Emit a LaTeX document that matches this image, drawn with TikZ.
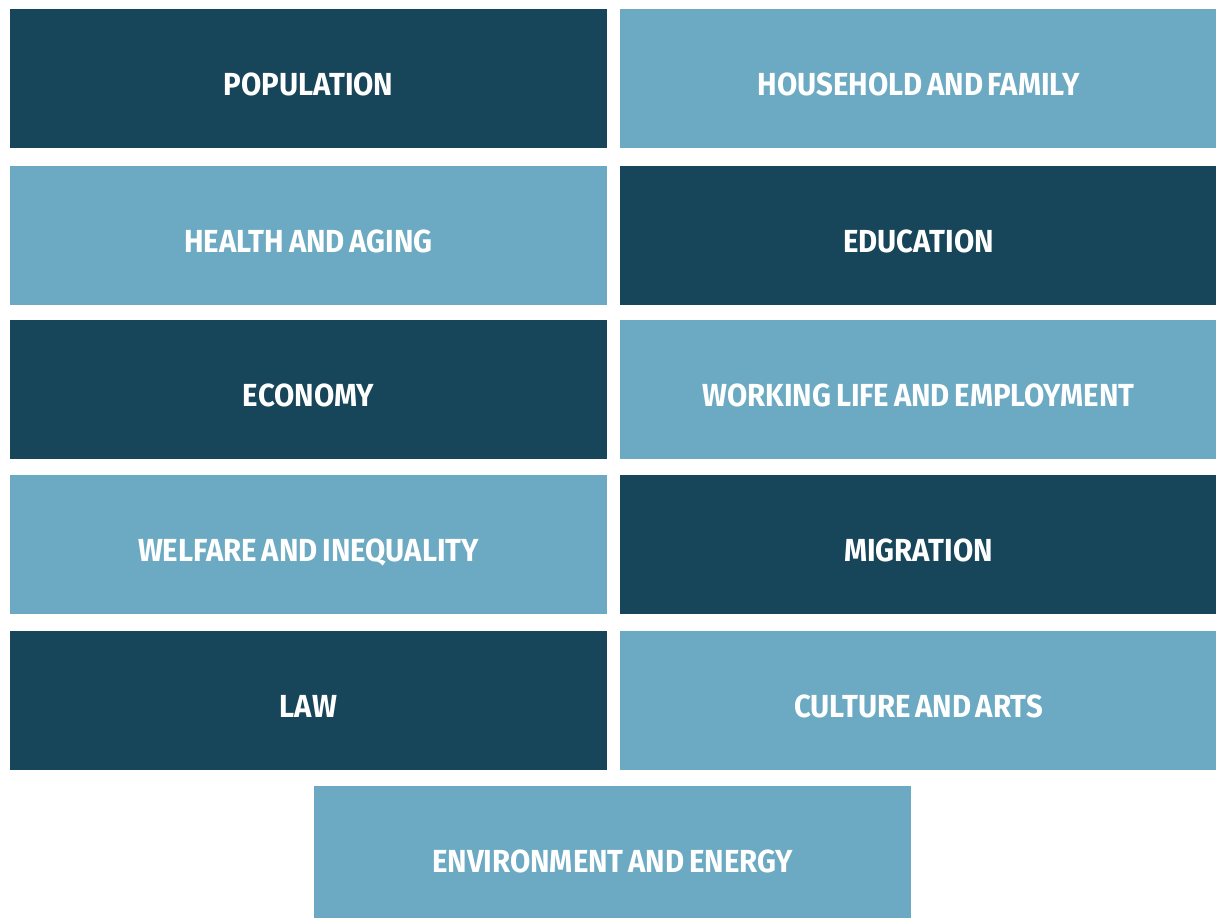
\documentclass[tikz,border=0pt]{standalone}
\usepackage{fontspec}
\setmainfont{Fira Sans}
\definecolor{darkteal}{HTML}{17455A}
\definecolor{lightteal}{HTML}{6BAAC2}
\newcommand{\topic}[1]{\scalebox{0.92}[1]{\spaceskip=0.16em #1}}

\begin{document}
\begin{tikzpicture}[x=0.025cm,y=-0.025cm,
  tile/.style={rectangle,minimum width=14.925cm,minimum height=3.475cm,inner sep=0pt,
    text=white,font=\fontsize{22.7}{24}\selectfont\bfseries,
    text height=0.83cm,text depth=0pt},
  darktile/.style={tile,fill=darkteal},
  lighttile/.style={tile,fill=lightteal}]

\useasboundingbox (0,0) rectangle (1216,918);

\node (population) at (308.5,78.5) [darktile] {\topic{POPULATION}};
\node (household) at (918.5,78.5) [lighttile] {\topic{HOUSEHOLD AND FAMILY}};
\node (health) at (308.5,235.5) [lighttile] {\topic{HEALTH AND AGING}};
\node (education) at (918.5,235.5) [darktile] {\topic{EDUCATION}};
\node (economy) at (308.5,389.5) [darktile] {\topic{ECONOMY}};
\node (working) at (918.5,389.5) [lighttile] {\topic{WORKING LIFE AND EMPLOYMENT}};
\node (welfare) at (308.5,544.5) [lighttile] {\topic{WELFARE AND INEQUALITY}};
\node (migration) at (918.5,544.5) [darktile] {\topic{MIGRATION}};
\node (law) at (308.5,700.5) [darktile] {\topic{LAW}};
\node (culture) at (918.5,700.5) [lighttile] {\topic{CULTURE AND ARTS}};
\node (environment) at (612.5,855.5) [lighttile] {\topic{ENVIRONMENT AND ENERGY}};

\end{tikzpicture}
\end{document}
